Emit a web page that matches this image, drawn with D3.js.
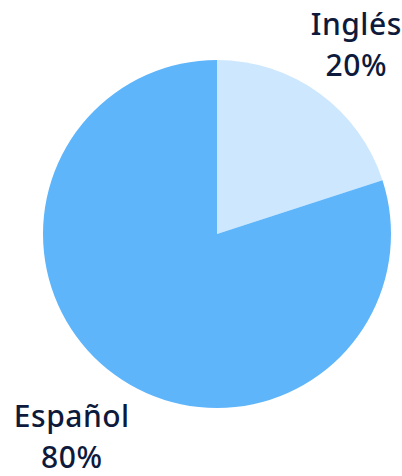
<!DOCTYPE html>
<html>
<head>
<meta charset="utf-8">
<script src="https://cdn.jsdelivr.net/npm/d3@7"></script>
<style>
  body { margin: 0; background: #fff; }
  svg { display: block; }
</style>
</head>
<body>
<div id="chart"></div>
<script>
// Data
const languages = ["Inglés", "Español"];
const shares = [20, 80];
const colors = ["#cce7fe", "#5fb5fa"];

const width = 402, height = 476;
const cx = 217, cy = 234, radius = 174;

const svg = d3.select("#chart")
  .append("svg")
    .attr("width", width)
    .attr("height", height);

const g = svg.append("g")
    .attr("transform", `translate(${cx},${cy})`);

const pie = d3.pie().sort(null).value(d => d.value);
const arcs = pie(languages.map((name, i) => ({ name, value: shares[i], color: colors[i] })));

const arc = d3.arc().innerRadius(0).outerRadius(radius);

// Slices
g.selectAll("path")
  .data(arcs)
  .enter()
  .append("path")
    .attr("d", arc)
    .attr("fill", d => d.data.color);

// Labels outside the pie
const labelArc = d3.arc().innerRadius(242).outerRadius(242);

const labels = g.selectAll("text")
  .data(arcs)
  .enter()
  .append("text")
    .attr("transform", d => {
      const [x, y] = labelArc.centroid(d);
      return `translate(${x - 3},${y + 3})`;
    })
    .attr("text-anchor", "middle")
    .style("font-family", "'Noto Sans', sans-serif")
    .style("font-size", "30px")
    .style("font-weight", 500)
    .style("letter-spacing", "0.5px")
    .style("fill", "#0e1a3c");

labels.append("tspan")
    .attr("x", 0)
    .attr("dy", "-0.2em")
    .text(d => d.data.name);

labels.append("tspan")
    .attr("x", 0)
    .attr("dy", "1.37em")
    .text(d => d.data.value + "%");
</script>
</body>
</html>
